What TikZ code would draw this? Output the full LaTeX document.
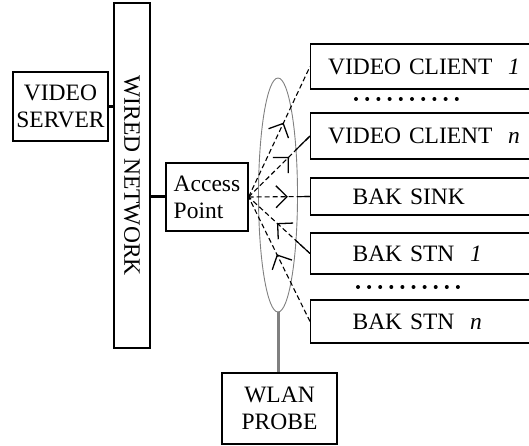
\documentclass[tikz,border=0pt]{standalone}
\usepackage{fontspec}
\setmainfont{Liberation Serif}
\usepackage{tikz}
\usetikzlibrary{shapes.geometric,arrows.meta,decorations.markings,calc}

\begin{document}
\begin{tikzpicture}[x = 1pt, y = -1pt,
	every node/.style = {font=\fontsize{23.5}{27}\selectfont},
	box/.style = {draw, line width=1.2pt, inner sep=0pt, align=center},
	rbox/.style = {draw, line width=1.2pt, inner ysep=0pt, anchor=west, align=left},
	link/.style = {line width=1.1pt, dash pattern=on 5pt off 3pt},
	flow/.style = {postaction={decorate}, decoration={markings, mark=at position #1 with {\arrow{Straight Barb[length=11pt,width=22pt,line width=1.3pt]}}}}]
	\useasboundingbox (0,0) rectangle (529,446);

	% wired side
	\node[box, minimum width=95pt, minimum height=69pt] (server) at (60.5,106.5) {VIDEO\\SERVER};
	\node[box, minimum width=36pt, minimum height=345pt] (wired) at (132,175.5) {};
	\node[rotate=-90] (wiredtxt) at (wired.center) {WIRED NETWORK};
	\node[box, align=left, minimum width=82pt, minimum height=68pt] (ap) at (207,197) {Access\\Point};
	\draw[line width=3pt] (server.east) -- (server.east -| wired.west);
	\draw[line width=3pt] (wired.east |- ap.west) -- (ap.west);

	% wireless side
	\node[rbox, text width=190pt, inner xsep=17.5pt, minimum height=45pt] (vc1) at (310,66.5) {\mbox{VIDEO CLIENT\ \ \textit{1}}};
	\node[rbox, text width=190pt, inner xsep=17.5pt, minimum height=46pt] (vcn) at (310,136) {\mbox{VIDEO CLIENT\ \ \textit{n}}};
	\node[rbox, text width=141pt, inner xsep=42pt, minimum height=37pt] (sink) at (310,196.5) {BAK SINK};
	\node[rbox, text width=141pt, inner xsep=42pt, minimum height=41pt] (stn1) at (310,253.5) {\mbox{BAK STN\ \ \textit{1}}};
	\node[rbox, text width=141pt, inner xsep=42pt, minimum height=43pt] (stnn) at (310,321.5) {\mbox{BAK STN\ \ \textit{n}}};
	\foreach \i in {0,...,9} {
		\fill (356+\i*11.2,99) circle (2);
		\fill (358+\i*11.1,287) circle (2);
	}

	\node[draw=gray, ellipse, line width=0.9pt, minimum width=39pt, minimum height=234pt, inner sep=0pt] (cell) at (278,195) {};
	\node[box, minimum width=115pt, minimum height=71pt] (probe) at (279.5,408.5) {WLAN\\PROBE};
	\draw[gray, line width=3pt] (cell.south) -- (cell.south |- probe.north);

	\draw[link, flow=0.57] (ap.east) -- (vc1.west);
	\draw[link, flow=0.66] (ap.east) -- (vcn.west);
	\draw[line width=1.1pt] ($(ap.east)!0.76!(vcn.west)$) -- (vcn.west);
	\draw[link, flow=0.64] (ap.east) -- (sink.west);
	\draw[line width=1.1pt] ($(ap.east)!0.79!(sink.west)$) -- (sink.west);
	\draw[link, flow=0.54] (stn1.west) -- (ap.east);
	\draw[line width=1.1pt] (stn1.west) -- ($(stn1.west)!0.24!(ap.east)$);
	\draw[link, flow=0.54] (stnn.west) -- (ap.east);
\end{tikzpicture}
\end{document}
